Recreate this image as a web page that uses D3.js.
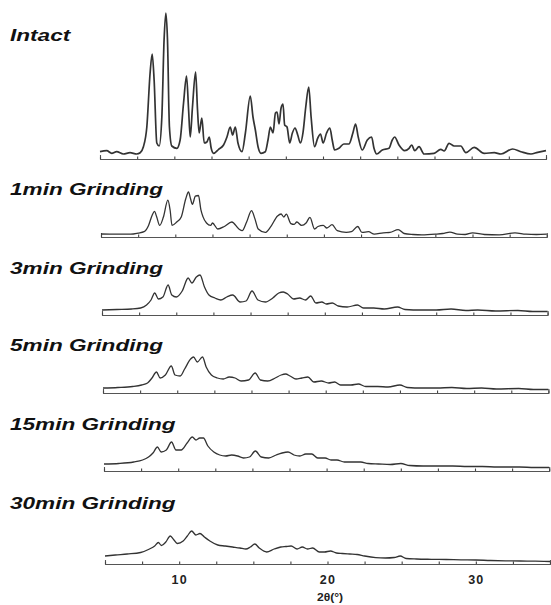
<!DOCTYPE html>
<html>
<head>
<meta charset="utf-8">
<script src="https://cdn.jsdelivr.net/npm/d3@7"></script>
<style>
  html, body { margin: 0; padding: 0; background: #fff; }
  svg { display: block; }
</style>
</head>
<body>
<svg id="chart" width="551" height="605"></svg>
<script>
// Powder X-ray diffraction patterns: intact sample and after grinding.
// Each pattern is a list of [2θ (deg), intensity (a.u.)].

const panelLabels = ["Intact", "1min Grinding", "3min Grinding", "5min Grinding", "15min Grinding", "30min Grinding"];

const intact = [
  [5.0,7.3],[5.45,8.3],[5.79,5.7],[6.12,7.3],[6.57,5],[7.02,6.3],[7.47,5],[7.7,6.3],[7.92,12.3],[8.15,32],
  [8.37,86],[8.51,105],[8.64,79],[8.82,16],[8.98,13],[9.16,42],[9.31,119],[9.43,146],[9.54,119],[9.67,32],
  [9.83,13],[10.17,10.7],[10.39,19],[10.62,56],[10.82,83],[10.96,49],[11.07,22],[11.22,52],[11.43,87],[11.56,49],
  [11.67,26],[11.85,41],[12.01,16],[12.19,17],[12.35,22],[12.48,10.7],[12.64,5.7],[12.98,9.7],[13.31,14],[13.54,22],
  [13.76,32],[13.92,24],[14.1,32],[14.28,16],[14.55,7.3],[14.78,26],[15.11,63],[15.29,42],[15.45,29],[15.63,12.3],
  [15.83,5.7],[16.12,7.3],[16.3,19],[16.46,32],[16.64,26],[16.8,46],[16.91,47],[17.04,35],[17.18,51],[17.31,55],
  [17.42,34],[17.58,32],[17.76,16],[17.94,26],[18.12,31],[18.3,24],[18.48,16],[18.66,27],[18.84,52],[19.04,72],
  [19.2,42],[19.43,12.3],[19.65,21],[19.83,25],[20.01,16],[20.24,26],[20.46,31],[20.62,19],[20.78,9],[21.07,10.7],
  [21.4,15],[21.74,15],[22.01,26],[22.19,35],[22.37,22],[22.64,9],[22.98,19],[23.27,22],[23.43,10.7],[23.61,5],
  [23.99,9],[24.44,10.7],[24.66,19],[24.82,22],[25.11,14],[25.49,8.3],[25.79,10.7],[25.97,14],[26.17,8.3],[26.46,12.3],
  [26.8,5],[27.47,5.7],[27.92,9.7],[28.15,8],[28.48,15.7],[28.82,13],[29.27,13],[29.61,6.3],[30.17,11.7],[30.84,5.7],
  [31.52,6.3],[31.97,5],[32.75,10],[33.31,7.3],[33.99,5],[34.44,6.7],[35.0,8.3]
];

const grind1 = [
  [5.0,3],[6.0,2.8],[7.0,2.8],[7.5,3.9],[7.9,5.3],[8.2,11.6],[8.45,22],[8.6,25.6],[8.75,20],[8.95,11.6],
  [9.2,20],[9.5,36.9],[9.65,27],[9.78,11.6],[10.1,15],[10.4,20],[10.7,38],[10.89,45],[11.03,38],[11.15,32.7],
  [11.35,40.8],[11.56,41.5],[11.72,27.4],[11.86,20.4],[12.1,14],[12.38,11.6],[12.5,14],[12.86,8],[13.3,10.5],[13.8,15],
  [14.28,8],[14.5,6.3],[14.8,15],[15.13,26.4],[15.35,18.6],[15.58,8],[16.05,4.6],[16.4,9.8],[16.88,21],[17.12,23],
  [17.3,20],[17.47,22.8],[17.78,13.4],[18.0,12.6],[18.18,15],[18.5,11.6],[18.8,14],[19.06,19.7],[19.37,8],[19.6,10.5],
  [19.96,11.6],[20.2,9],[20.55,12.3],[20.9,6.3],[21.5,4.6],[21.85,5.3],[22.28,10.5],[22.56,4.6],[23.0,5.3],[23.39,2.8],
  [24.0,4.2],[24.45,4.6],[25.0,7.4],[25.4,3.5],[26.0,2.5],[26.6,2.1],[27.5,2.8],[28.0,3.5],[28.48,4.9],[29.0,2.8],
  [29.5,2.5],[30.0,4.2],[30.8,2.5],[31.8,2.1],[32.86,4.2],[33.6,2.8],[34.3,2.5],[35.0,2.8]
];

const grind3 = [
  [5.0,5],[6.0,5.5],[7.0,6],[7.6,7],[8.0,10],[8.3,15],[8.55,22],[8.8,16],[9.1,18],[9.45,30],
  [9.7,20],[10.0,18],[10.4,24],[10.8,37],[11.05,32],[11.35,38],[11.6,40],[11.9,28],[12.2,20],[12.6,17],
  [13.0,15],[13.4,18],[13.8,20],[14.3,13],[14.7,14],[15.1,24],[15.5,15],[16.0,13],[16.5,17],[16.9,22],
  [17.2,23],[17.5,21],[17.9,16],[18.3,17],[18.7,15],[19.05,19],[19.4,12],[19.8,13],[20.1,11],[20.5,12],
  [20.9,9],[21.5,8],[22.2,10],[22.6,7],[23.3,7],[24.0,6],[24.9,8],[25.4,5.5],[26.5,5],[27.5,5],
  [28.5,6],[29.5,4.5],[30.3,5],[31.5,4],[33.0,4.5],[34.0,3.5],[35.0,3.5]
];

const grind5 = [
  [5.0,5],[6.0,5.5],[7.0,6.5],[7.6,8],[8.0,10],[8.3,15],[8.6,21],[8.85,15],[9.2,18],[9.6,27],
  [9.85,18],[10.2,17],[10.5,24],[10.9,34],[11.1,36],[11.35,31],[11.7,36],[11.95,26],[12.3,18],[12.7,15],
  [13.1,14],[13.5,16],[13.9,15],[14.3,12],[14.8,13],[15.25,20],[15.6,13],[16.1,12],[16.6,15],[17.0,18],
  [17.3,19],[17.6,17],[18.0,14],[18.4,15],[18.8,16],[19.2,11],[19.7,12],[20.2,10],[20.6,11],[21.0,8],
  [21.7,8],[22.2,9],[22.7,6.5],[23.5,6.5],[24.2,6],[25.0,8],[25.5,5.5],[26.5,5],[27.5,5],[28.5,5.5],
  [29.5,4.5],[30.5,5],[31.5,4],[33.0,4.5],[34.0,3.5],[35.0,3.5]
];

const grind15 = [
  [5.0,7],[6.0,7.5],[7.0,9],[7.6,11],[8.0,14],[8.3,18],[8.6,24],[8.85,19],[9.2,21],[9.55,29],
  [9.85,21],[10.2,21],[10.6,28],[10.95,34],[11.2,31],[11.45,33],[11.7,33],[12.0,25],[12.4,19],[12.8,16],
  [13.2,15],[13.6,16],[14.0,15],[14.4,13],[14.8,14],[15.2,20],[15.6,14],[16.1,13],[16.6,16],[17.0,18],
  [17.4,19],[17.8,16],[18.2,15],[18.6,17],[19.0,17],[19.4,13],[19.9,13],[20.3,11],[20.7,11],[21.2,9],
  [21.8,9],[22.3,9],[22.8,7.5],[23.5,7],[24.3,6.5],[25.0,7.5],[25.6,5.5],[26.5,5],[27.5,5],[28.5,5],
  [29.5,4.5],[30.5,4.5],[31.5,4],[33.0,4],[34.0,3.5],[35.0,3.5]
];

const grind30 = [
  [5.0,8],[5.7,9],[6.5,10],[7.4,11.5],[8.0,15],[8.35,18],[8.6,21.5],[8.8,18.5],[9.1,22],[9.4,28],
  [9.65,24],[9.87,20.5],[10.27,23],[10.55,28],[10.84,33],[11.13,29],[11.4,30.5],[11.7,27],[12.07,23],[12.6,19],
  [13.1,18],[13.6,17],[14.1,16],[14.5,15],[14.8,17],[15.1,20],[15.4,16],[15.9,12],[16.4,15],[16.85,17],
  [17.2,17.5],[17.55,18],[17.95,15],[18.3,17],[18.65,15],[19.0,16],[19.45,12],[19.8,12],[20.2,13],[20.6,11],
  [21.0,10.5],[21.5,10],[22.0,9.5],[22.5,8],[23.25,6.4],[23.9,6],[24.5,6.5],[24.9,8],[25.3,5.5],[26.0,5],
  [27.0,4.7],[28.0,4.5],[29.0,4.2],[30.0,4],[31.0,3.5],[32.0,3.2],[33.0,3],[34.0,2.8],[35.0,2.5]
];

const patterns = [intact, grind1, grind3, grind5, grind15, grind30];

// Axis ticks every 2.5°, numbered at 10, 20, 30
const tickValues = d3.range(5, 35.001, 2.5);
const tickLabels = [10, 20, 30];
const axisTitle = "2θ(°)";

// ---- layout ----
const axisY = [159, 237, 315, 393, 471, 564];
const labelY = [41, 195, 274, 351, 430, 509];
const labelX = 10;

const svg = d3.select("#chart");

patterns.forEach((data, i) => {
  const x = d3.scaleLinear().domain([5, 35]).range([100 + i, 546 + 0.8 * i]);
  const y = d3.scaleLinear().domain([0, 150]).range([axisY[i], axisY[i] - 150]);
  const g = svg.append("g");

  // baseline axis with small upward ticks
  const isLast = i === patterns.length - 1;
  const axis = d3.axisBottom(x)
    .tickValues(tickValues)
    .tickSizeInner(-2.5)
    .tickSizeOuter(-4)
    .tickPadding(isLast ? 11 : 0)
    .tickFormat(d => (isLast && tickLabels.includes(d)) ? d3.format("d")(d) : "");

  const ax = g.append("g")
    .attr("transform", `translate(0,${axisY[i]})`)
    .call(axis);
  ax.select(".domain").attr("stroke", "#555").attr("stroke-width", 1.1).attr("fill", "none");
  ax.selectAll(".tick line").attr("stroke", "#444").attr("stroke-width", 1.1);
  ax.selectAll(".tick text")
    .attr("fill", "#222")
    .attr("font-family", "'Liberation Sans', Arial, sans-serif")
    .attr("font-weight", "bold")
    .attr("font-size", 12.5)
    .attr("letter-spacing", "1.2px");

  // diffraction trace
  const line = d3.line()
    .x(d => x(d[0]))
    .y(d => y(d[1]))
    .curve(d3.curveMonotoneX);

  g.append("path")
    .datum(data)
    .attr("d", line)
    .attr("fill", "none")
    .attr("stroke", "#333")
    .attr("stroke-width", i === 0 ? 1.7 : 1.3)
    .attr("stroke-linejoin", "round");

  // panel label
  g.append("text")
    .attr("transform", `translate(${labelX},${labelY[i]}) scale(1.37,1)`)
    .attr("font-family", "'Liberation Sans', Arial, sans-serif")
    .attr("font-weight", "bold")
    .attr("font-style", "italic")
    .attr("font-size", 16.5)
    .attr("fill", "#111")
    .text(panelLabels[i]);
});

// x-axis title
svg.append("text")
  .attr("transform", "translate(330,601) scale(1.15,1)")
  .attr("text-anchor", "middle")
  .attr("font-family", "'Liberation Sans', Arial, sans-serif")
  .attr("font-weight", "bold")
  .attr("font-size", 10.5)
  .attr("fill", "#222")
  .text(axisTitle);
</script>
</body>
</html>
